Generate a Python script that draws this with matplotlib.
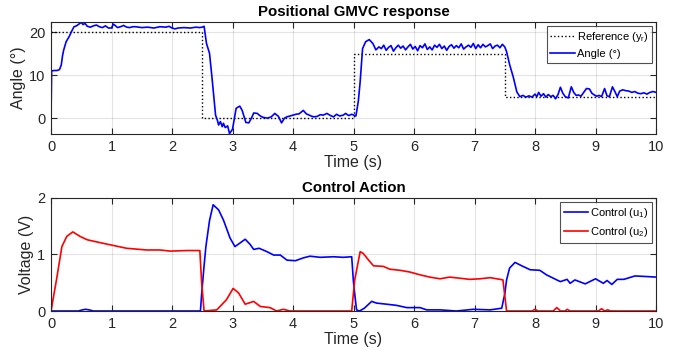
import matplotlib
matplotlib.use("Agg")
import matplotlib.pyplot as plt

plt.rcParams['font.family'] = ['Liberation Sans', 'DejaVu Sans']
plt.rcParams['mathtext.fontset'] = 'custom'
plt.rcParams['mathtext.rm'] = 'Liberation Sans'
plt.rcParams['mathtext.it'] = 'Liberation Sans'

# reference steps
ref_t = [0, 2.5, 2.5, 5, 5, 7.5, 7.5, 10]
ref_deg = [20, 20, 0, 0, 15, 15, 5, 5]

angle_t = [0, 0.01, 0.05, 0.1, 0.14, 0.17, 0.19, 0.21, 0.25, 0.3, 0.34, 0.38, 0.42,
           0.46, 0.5, 0.53, 0.56, 0.6, 0.65, 0.7, 0.75, 0.8, 0.85, 0.9, 0.95, 1.0,
           1.03, 1.06, 1.1, 1.15, 1.2, 1.25, 1.3, 1.35, 1.4, 1.5, 1.6, 1.7, 1.8, 1.9,
           1.95, 2.0, 2.05, 2.1, 2.2, 2.3, 2.4, 2.45, 2.5, 2.53, 2.57, 2.62, 2.66,
           2.72, 2.75, 2.77, 2.8, 2.83, 2.85, 2.88, 2.92, 2.95, 3.0, 3.06, 3.12, 3.16,
           3.22, 3.27, 3.32, 3.35, 3.41, 3.45, 3.5, 3.58, 3.64, 3.7, 3.76, 3.81, 3.86,
           3.9, 4.0, 4.05, 4.1, 4.17, 4.22, 4.3, 4.34, 4.4, 4.45, 4.5, 4.56, 4.62,
           4.67, 4.72, 4.77, 4.83, 4.87, 4.92, 4.97, 5.04, 5.08, 5.11, 5.15, 5.2,
           5.26, 5.32, 5.37, 5.42, 5.46, 5.5, 5.54, 5.58, 5.62, 5.66, 5.7, 5.74,
           5.78, 5.82, 5.86, 5.9, 5.94, 5.98, 6.02, 6.06, 6.1, 6.14, 6.18, 6.22,
           6.26, 6.3, 6.34, 6.38, 6.42, 6.46, 6.5, 6.54, 6.58, 6.62, 6.66, 6.7,
           6.74, 6.78, 6.82, 6.86, 6.9, 6.94, 6.98, 7.02, 7.06, 7.1, 7.14, 7.18,
           7.22, 7.26, 7.3, 7.34, 7.38, 7.42, 7.46, 7.5, 7.53, 7.58, 7.64, 7.7,
           7.75, 7.8, 7.85, 7.9, 7.95, 8.0, 8.03, 8.06, 8.1, 8.14, 8.18, 8.22, 8.26,
           8.3, 8.34, 8.38, 8.42, 8.46, 8.5, 8.55, 8.6, 8.64, 8.68, 8.72, 8.76, 8.8,
           8.85, 8.9, 8.94, 8.98, 9.02, 9.06, 9.1, 9.15, 9.19, 9.23, 9.28, 9.32,
           9.36, 9.4, 9.45, 9.5, 9.55, 9.6, 9.65, 9.7, 9.75, 9.8, 9.85, 9.9, 9.95, 10.0]
angle_deg = [0, 11.0, 11.1, 11.1, 11.3, 12.4, 14.5, 15.9, 17.8, 19.0, 20.2, 21.3, 21.5,
             21.9, 22.3, 21.8, 22.1, 21.4, 21.2, 21.5, 21.7, 21.3, 21.1, 21.5, 21.0, 21.0,
             21.9, 21.6, 21.1, 21.3, 21.6, 21.2, 21.1, 21.3, 21.3, 21.1, 21.2, 21.0, 21.3, 21.2,
             21.4, 21.0, 20.8, 21.0, 21.1, 21.0, 21.2, 21.1, 21.2, 21.4, 17.4, 15.1, 9.6,
             0.7, -0.5, -1.6, -0.8, -2.0, -1.2, -2.2, -1.8, -3.6, -2.6, 2.3, 2.8, 1.8,
             -1.0, -1.1, 0.2, 1.2, 1.1, 0.6, 0.2, 0.0, 0.3, 1.1, 0.4, -1.1, 0.0,
             0.3, 0.7, 0.9, 1.0, 1.8, 1.0, 0.5, 0.3, 0.4, 0.8, 0.7, 1.1, 0.6,
             0.3, 0.9, 0.5, 0.7, 1.1, 0.6, 0.9, 0.5, 4.0, 8.5, 16.2, 17.8,
             18.3, 17.4, 15.9, 16.6, 16.2, 17.0, 15.8, 16.5, 16.9, 15.6, 16.4, 17.0,
             16.3, 16.8, 15.9, 16.6, 17.2, 16.1, 16.7, 15.7, 16.9, 16.4, 17.3, 16.0,
             16.6, 15.9, 17.0, 16.5, 17.2, 16.2, 16.8, 15.8, 16.7, 17.1, 16.3, 16.9,
             16.4, 17.3, 16.1, 16.6, 17.0, 16.5, 17.4, 16.2, 17.1, 16.4, 17.2, 16.6,
             16.9, 17.3, 16.2, 16.8, 17.0, 16.4, 17.2, 16.6, 15.5, 12.5, 9.6, 6.1,
             5.0, 5.3, 4.9, 5.2, 4.9, 5.6, 5.0, 6.0, 5.1, 5.7, 4.9, 5.5, 5.0,
             5.3, 4.5, 5.5, 7.2, 5.8, 5.0, 4.7, 7.3, 6.0, 5.3, 5.4, 5.1, 5.9,
             6.9, 6.8, 5.8, 5.4, 5.1, 5.3, 5.0, 6.9, 5.2, 5.0, 7.3, 6.2,
             5.0, 6.3, 6.6, 6.4, 6.3, 6.0, 6.2, 5.8, 5.7, 5.9, 5.6, 6.0, 6.2, 6.0]

# control action u1 (blue)
u1_t = [0, 0.45, 0.52, 0.57, 0.63, 0.7, 2.47, 2.49, 2.53, 2.56, 2.62, 2.68, 2.77, 2.85,
        2.96, 3.04, 3.12, 3.21, 3.29, 3.35, 3.44, 3.57, 3.68, 3.79, 3.9, 4.04, 4.17,
        4.28, 4.45, 4.67, 4.83, 4.97, 5.0, 5.05, 5.1, 5.18, 5.3, 5.38, 5.55, 5.71,
        5.88, 6.1, 6.21, 6.43, 6.7, 6.98, 7.26, 7.45, 7.5, 7.53, 7.58, 7.67, 7.78,
        7.92, 8.08, 8.19, 8.36, 8.42, 8.53, 8.58, 8.66, 8.83, 9.0, 9.13, 9.19, 9.27,
        9.36, 9.47, 9.65, 9.84, 10.0]
u1_v = [0, 0, 0.02, 0.03, 0.02, 0, 0, 0.3, 0.8, 1.14, 1.6, 1.88, 1.79, 1.61,
        1.29, 1.14, 1.2, 1.27, 1.18, 1.09, 1.11, 1.05, 0.99, 0.99, 0.9, 0.89, 0.94,
        0.97, 0.95, 0.96, 0.95, 0.96, 0.5, 0.02, 0, 0.05, 0.17, 0.14, 0.12, 0.1,
        0.06, 0.06, 0.02, 0.02, 0, 0.03, 0.02, 0.05, 0.3, 0.55, 0.76, 0.86, 0.8,
        0.73, 0.72, 0.64, 0.55, 0.52, 0.56, 0.49, 0.55, 0.48, 0.57, 0.49, 0.54, 0.47,
        0.56, 0.56, 0.62, 0.61, 0.6]

# control action u2 (red)
u2_t = [0, 0.09, 0.18, 0.26, 0.36, 0.48, 0.6, 0.81, 1.03, 1.25, 1.58, 1.8, 1.97,
        2.24, 2.46, 2.49, 2.53, 2.74, 2.9, 3.01, 3.1, 3.21, 3.35, 3.46, 3.62, 3.73,
        3.84, 3.95, 4.97, 5.02, 5.11, 5.16, 5.25, 5.33, 5.49, 5.6, 5.77, 5.93, 6.1,
        6.26, 6.43, 6.59, 6.76, 6.92, 7.09, 7.26, 7.42, 7.47, 7.53, 7.95, 8.0, 8.05,
        8.3, 8.36, 8.42, 8.5, 8.53, 8.58, 9.05, 9.1, 9.15, 9.2, 9.25, 10.0]
u2_v = [0, 0.55, 1.14, 1.32, 1.4, 1.32, 1.26, 1.21, 1.16, 1.11, 1.08, 1.08, 1.06,
        1.07, 1.07, 0.5, 0, 0.02, 0.2, 0.4, 0.32, 0.12, 0.17, 0.08, 0.06, 0,
        0.03, 0, 0, 0.55, 1.05, 1.02, 0.9, 0.8, 0.79, 0.74, 0.72, 0.69, 0.64,
        0.6, 0.57, 0.6, 0.58, 0.56, 0.57, 0.59, 0.56, 0.55, 0, 0, 0.03, 0,
        0, 0.06, 0, 0, 0.03, 0, 0, 0.04, 0, 0.02, 0, 0]

text_col = '#262626'


def StyleAxes(ax):
    ax.set_xlim(0, 10)
    ax.set_xticks(range(0, 11))
    ax.tick_params(direction='in', top=True, right=True, labelsize=10.5,
                   colors=text_col, length=4, width=0.8, pad=4)
    ax.grid(True, color='#262626', alpha=0.12, linewidth=0.8)
    for sp in ax.spines.values():
        sp.set_color(text_col)
        sp.set_linewidth(0.8)
    ax.set_xlabel('Time (s)', fontsize=11.5, color=text_col, labelpad=1)


def StyleLegend(ax):
    leg = ax.legend(loc='upper right', fontsize=8, frameon=True, fancybox=False,
                    handlelength=2.2, handletextpad=0.15, borderpad=0.3,
                    labelspacing=0.5, borderaxespad=0.4)
    leg.get_frame().set_edgecolor(text_col)
    leg.get_frame().set_linewidth(0.8)
    return leg


fig = plt.figure(figsize=(6.81, 3.59), dpi=100)
ax1 = fig.add_axes([0.0749, 0.6267, 0.8884, 0.312])
ax2 = fig.add_axes([0.0749, 0.1337, 0.8884, 0.3148])

# Top: angle response
ax1.plot(ref_t, ref_deg, color='black', linestyle=':', linewidth=1.0,
         label=r'Reference (y$_\mathrm{r}$)')
ax1.plot(angle_t, angle_deg, color='#0000ff', linewidth=1.2, label='Angle (°)')
ax1.set_ylim(-3.7, 22.4)
ax1.set_yticks([0, 10, 20])
StyleAxes(ax1)
ax1.set_ylabel('Angle (°)', fontsize=11.5, color=text_col, labelpad=2)
ax1.set_title('Positional GMVC response', fontsize=10.8, fontweight='bold', pad=4)
StyleLegend(ax1)

# Bottom: control action
ax2.plot(u1_t, u1_v, color='#0000ff', linewidth=1.2, label=r'Control (u$_\mathrm{1}$)')
ax2.plot(u2_t, u2_v, color='#ff0000', linewidth=1.2, label=r'Control (u$_\mathrm{2}$)')
ax2.set_ylim(0, 2)
ax2.set_yticks([0, 1, 2])
StyleAxes(ax2)
ax2.set_ylabel('Voltage (V)', fontsize=11.5, color=text_col, labelpad=2)
ax2.set_title('Control Action', fontsize=10.8, fontweight='bold', pad=4)
StyleLegend(ax2)

fig.savefig('out.png', dpi=100, facecolor='white')
